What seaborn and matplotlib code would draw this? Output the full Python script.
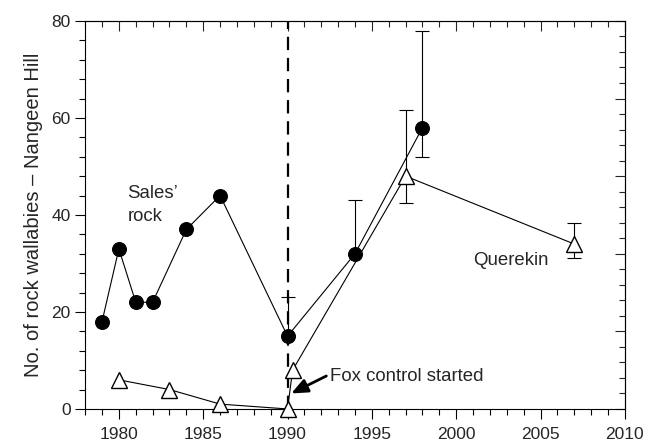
import matplotlib
matplotlib.use("Agg")
import matplotlib.pyplot as plt
from matplotlib.ticker import MultipleLocator, NullFormatter
import seaborn as sns
import pandas as pd
import numpy as np

sns.set_style("ticks")
plt.rcParams['font.family'] = ['Liberation Sans', 'DejaVu Sans']

# Sales' rock (filled circles)
sales_years = [1979, 1980, 1981, 1982, 1984, 1986, 1990, 1994, 1998]
sales_vals = [18, 33, 22, 22, 37, 44, 15, 32, 58]
sales_err_years = [1990, 1994, 1998]
sales_err_vals = [15, 32, 58]
sales_err_low = [0, 0, 6]
sales_err_high = [8, 11, 20]

# Querekin (open triangles)
quer_years = [1980, 1983, 1986, 1990, 1990.3, 1997, 2007]
quer_vals = [6, 4, 1, 0, 8, 48, 34]
quer_err_years = [1997, 2007]
quer_err_vals = [48, 34]
quer_err_low = [5.6, 2.8]
quer_err_high = [13.6, 4.4]

fig = plt.figure(figsize=(6.55, 4.45), dpi=100)
ax = fig.add_axes([0.13, 0.081, 0.824, 0.872])

ax.axvline(1990, color='black', lw=1.6, ls=(0, (6, 3.5)), zorder=1)

ax.errorbar(sales_err_years, sales_err_vals, yerr=[sales_err_low, sales_err_high],
            fmt='none', ecolor='black', elinewidth=0.8, capsize=5, capthick=0.8, zorder=2)
ax.errorbar(quer_err_years, quer_err_vals, yerr=[quer_err_low, quer_err_high],
            fmt='none', ecolor='black', elinewidth=0.8, capsize=5, capthick=0.8, zorder=2)

df_s = pd.DataFrame({'year': sales_years, 'n': sales_vals})
df_q = pd.DataFrame({'year': quer_years, 'n': quer_vals})
sns.lineplot(data=df_s, x='year', y='n', ax=ax, color='black', lw=0.8, sort=False,
             marker='o', markersize=10, markerfacecolor='black', markeredgecolor='black',
             zorder=3, clip_on=False)
sns.lineplot(data=df_q, x='year', y='n', ax=ax, color='black', lw=0.8, sort=False,
             marker='^', markersize=11, markerfacecolor='white', markeredgecolor='black',
             markeredgewidth=1.0, zorder=4, clip_on=False)

ax.set_xlim(1978, 2010)
ax.set_ylim(0, 80)
ax.set_xticks([1980, 1985, 1990, 1995, 2000, 2005, 2010])
ax.set_yticks([0, 20, 40, 60, 80])
ax.xaxis.set_minor_locator(MultipleLocator(1))
ax.yaxis.set_minor_locator(MultipleLocator(4))
ax.tick_params(axis='both', which='major', labelsize=12.5, length=7, width=0.8, color='black')
ax.tick_params(axis='x', which='major', pad=6)
ax.tick_params(axis='both', which='minor', length=4, width=0.8, color='black')
ax.set_xlabel('')
ax.set_ylabel('No. of rock wallabies – Nangeen Hill', fontsize=14.5, labelpad=6)
for s in ax.spines.values():
    s.set_linewidth(0.8)
    s.set_color('black')

# top axis: inward ticks
axt = ax.secondary_xaxis('top')
axt.set_xticks([1980, 1985, 1990, 1995, 2000, 2005, 2010])
axt.xaxis.set_minor_locator(MultipleLocator(1))
axt.xaxis.set_major_formatter(NullFormatter())
axt.tick_params(which='major', direction='in', length=7, width=0.8)
axt.tick_params(which='minor', direction='in', length=4, width=0.8)

# right axis: inward ticks on different scale
axr = ax.secondary_yaxis('right', functions=(lambda y: y * 50 / 80, lambda y: y * 80 / 50))
axr.set_yticks([0, 10, 20, 30, 40, 50])
axr.yaxis.set_minor_locator(MultipleLocator(2))
axr.yaxis.set_major_formatter(NullFormatter())
axr.tick_params(which='major', direction='in', length=7, width=0.8)
axr.tick_params(which='minor', direction='in', length=4, width=0.8)

ax.text(1980.5, 44.5, "Sales’", fontsize=13.4, va='center', ha='left')
ax.text(1980.5, 39.6, "rock", fontsize=13.4, va='center', ha='left')
ax.text(2001.0, 30.7, "Querekin", fontsize=13.4, va='center', ha='left')
ax.text(1992.5, 6.6, "Fox control started", fontsize=13.4, va='center', ha='left')
ax.annotate("", xy=(1990.22, 3.2), xytext=(1992.3, 6.8),
            arrowprops=dict(arrowstyle='-|>,head_length=0.7,head_width=0.3', color='black',
                            lw=2.0, mutation_scale=14, shrinkA=0, shrinkB=0))

sns.despine(ax=ax, top=False, right=False)
fig.savefig('out.png', dpi=100)
